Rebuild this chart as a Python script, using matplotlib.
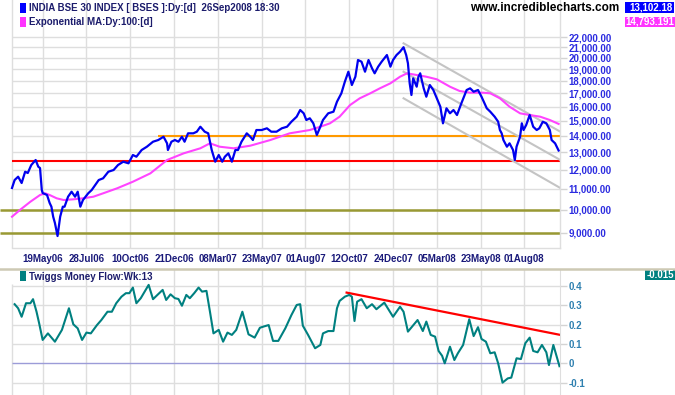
import matplotlib
matplotlib.use('Agg')
import matplotlib.pyplot as plt
from matplotlib.patches import Rectangle
from matplotlib.lines import Line2D
from matplotlib.ticker import NullLocator

plt.rcParams['font.family'] = ['Liberation Sans', 'DejaVu Sans']

# ---------------- data ----------------
tick_days = [35, 85, 135, 185, 235, 285, 335, 385, 435, 485, 535, 585]
tick_labels = ['19May06', '28Jul06', '10Oct06', '21Dec06', '08Mar07', '23May07',
               '01Aug07', '12Oct07', '24Dec07', '05Mar08', '23May08', '01Aug08']

price_day = [0, 3, 7, 11, 15, 18, 22, 27, 30, 32, 34, 35, 40, 43, 45, 47, 49, 52, 55, 58,
             60, 64, 68, 72, 75, 78, 81, 87, 91, 99, 104, 110, 116, 121, 127, 133, 138, 142, 148, 154,
             161, 167, 173, 177, 178, 182, 186, 190, 194, 197, 201, 207, 211, 215, 220, 224, 228, 232, 236, 240,
             243, 247, 251, 255, 258, 262, 268, 272, 275, 279, 285, 291, 296, 302, 308, 314, 319, 325, 329, 333,
             336, 340, 344, 348, 352, 355, 361, 367, 371, 376, 380, 384, 388, 392, 395, 399, 403, 407, 411, 414,
             418, 422, 428, 432, 435, 439, 443, 447, 450, 452, 454, 456, 458, 462, 464, 466, 470, 473, 477, 481,
             485, 489, 492, 496, 500, 504, 508, 513, 519, 523, 527, 532, 536, 542, 546, 551, 555, 557, 559, 561,
             565, 568, 572, 574, 576, 580, 582, 584, 587, 591, 595, 599, 602, 606, 610, 614, 616, 620, 624]
price_val = [11040, 11450, 11625, 11295, 11893, 11823, 12262, 12546, 12168, 12095, 10940, 10791, 10693, 10309, 10137, 9685, 9410, 8867, 9685, 10137,
             10137, 10611, 10855, 10611, 10855, 10137, 10451, 10776, 10940, 11450, 11540, 11893, 11986, 12262, 12449, 12358, 12836, 12736, 13132, 13332,
             13639, 13746, 13953, 13539, 13132, 13639, 13746, 13639, 13953, 13639, 14172, 14172, 14277, 14606, 14277, 14172, 13132, 12449, 12836, 12449,
             12736, 12935, 12449, 13132, 13132, 13639, 14172, 13953, 13746, 14387, 14387, 14500, 14277, 14277, 14500, 14606, 14944, 15290, 15764, 15528,
             15060, 15178, 14834, 14063, 14606, 15060, 15528, 15642, 16373, 17013, 17939, 18776, 17669, 18352, 19807, 19654, 18776, 19807, 19071, 18639,
             19211, 19654, 20263, 19211, 19807, 20263, 20572, 21000, 20263, 19511, 17808, 16881, 18218, 17534, 18352, 18639, 17406, 16750, 17669, 17271,
             16629, 16003, 14834, 15887, 15528, 15764, 15407, 16254, 17271, 17406, 17137, 17271, 16750, 15887, 15642, 15290, 14944, 14387, 14172, 13746,
             13332, 13539, 13132, 12546, 13332, 13953, 14834, 14387, 14720, 15407, 14606, 14387, 14500, 14944, 14834, 14387, 13746, 13539, 13102.18]

ema_day = [0, 9, 21, 32, 38, 43, 51, 59, 70, 81, 93, 104, 120, 138, 158, 177, 196, 215, 226, 237,
           253, 272, 295, 317, 340, 352, 363, 374, 386, 397, 409, 420, 432, 443, 451, 462, 473, 485, 500, 511,
           523, 538, 546, 557, 568, 580, 591, 603, 614, 624]
ema_val = [9685, 9985, 10371, 10693, 10776, 10693, 10533, 10451, 10485, 10533, 10611, 10776, 11025, 11362, 11806, 12546, 12935, 13235, 13539, 13332,
           13235, 13393, 13746, 14172, 14387, 14606, 14834, 15290, 16128, 16629, 17013, 17406, 17808, 18352, 18639, 18495, 18352, 18135, 17534, 17193,
           17060, 17060, 17013, 16629, 16003, 15528, 15407, 15290, 15060, 14793.191]

tmf_day = [3, 7, 11, 16, 21, 24, 28, 31, 35, 41, 49, 57, 65, 70, 75, 80, 85, 90, 97, 102,
           109, 114, 119, 125, 130, 134, 138, 142, 147, 156, 161, 166, 172, 176, 181, 186, 190, 194, 199, 203,
           208, 213, 217, 222, 226, 230, 236, 241, 246, 251, 256, 263, 270, 277, 283, 287, 293, 298, 304, 312,
           319, 325, 329, 332, 338, 346, 352, 355, 361, 367, 371, 374, 380, 385, 388, 391, 394, 399, 405, 411,
           416, 425, 435, 443, 447, 452, 463, 469, 473, 478, 483, 487, 491, 494, 500, 505, 509, 515, 522, 527,
           532, 536, 541, 546, 551, 555, 560, 566, 570, 576, 581, 586, 591, 595, 600, 605, 610, 613, 618, 625]
tmf_val = [0.306, 0.285, 0.241, 0.311, 0.311, 0.332, 0.267, 0.207, 0.121, 0.155, 0.112, 0.173, 0.285, 0.202, 0.181, 0.121, 0.159, 0.155, 0.198, 0.224,
           0.267, 0.267, 0.311, 0.345, 0.363, 0.363, 0.392, 0.311, 0.337, 0.406, 0.332, 0.354, 0.380, 0.328, 0.357, 0.337, 0.333, 0.298, 0.354, 0.337,
           0.363, 0.392, 0.371, 0.375, 0.267, 0.155, 0.173, 0.112, 0.159, 0.147, 0.173, 0.267, 0.150, 0.133, 0.184, 0.190, 0.198, 0.116, 0.116, 0.181,
           0.250, 0.302, 0.306, 0.195, 0.147, 0.078, 0.095, 0.155, 0.167, 0.167, 0.285, 0.323, 0.345, 0.354, 0.345, 0.219, 0.319, 0.332, 0.285, 0.306,
           0.280, 0.314, 0.241, 0.293, 0.267, 0.164, 0.224, 0.167, 0.216, 0.147, 0.138, 0.064, 0.039, 0.000, 0.086, 0.017, 0.052, 0.095, 0.228, 0.141,
           0.187, 0.126, 0.112, 0.052, 0.057, 0.000, -0.100, -0.078, -0.074, 0.026, 0.022, 0.104, 0.133, 0.064, 0.057, 0.095, 0.057, -0.009, 0.095, -0.015]

# drawn support / resistance levels
olive_levels = [10000, 9000]
red_level = 12485
orange_level = 14020
orange_start = 167
channel_days = [447, 626]
channel_upper = [21376, 14277]
channel_middle = [18776, 12546]
channel_lower = [16629, 11040]
tmf_trend_day = [382, 626]
tmf_trend_val = [0.366, 0.147]

price_ticks = list(range(9000, 23000, 1000))
tmf_ticks = [0.4, 0.3, 0.2, 0.1, 0.0, -0.1]
tmf_tick_labels = ['0.4', '0.3', '0.2', '0.1', '0', '-0.1']

# ---------------- figure ----------------
W, H = 675, 395
fig = plt.figure(figsize=(W / 100, H / 100), dpi=100)
fig.patch.set_facecolor('white')


def fx(px):
    return px / W


def fy(py):
    return 1 - py / H


XLIM = (-13.7, 625.6)
GRID = '#dedede'

ax = fig.add_axes([0, fy(248), 560 / W, 248 / H])
ax2 = fig.add_axes([0, 0, 560 / W, 125 / H])

# ---- main panel ----
ax.set_yscale('log')
ax.set_xlim(XLIM)
ax.set_ylim(8395, 26050)
ax.yaxis.set_minor_locator(NullLocator())
ax.xaxis.set_minor_locator(NullLocator())
ax.yaxis.tick_right()
ax.set_yticks(price_ticks)
ax.set_yticklabels([f'{v:,.2f}' for v in price_ticks])
ax.set_xticks(tick_days)
ax.set_xticklabels(tick_labels)
ax.tick_params(axis='y', which='major', length=5, width=1, color='#d4d4d4', pad=1,
               labelsize=7, labelcolor='#2c2ce0')
ax.tick_params(axis='x', length=0, pad=4, labelsize=7, labelcolor='#1a1a7a')
for lbl in ax.get_yticklabels() + ax.get_xticklabels():
    lbl.set_fontweight('bold')
for s in ['top', 'left']:
    ax.spines[s].set_visible(False)
for s in ['bottom', 'right']:
    ax.spines[s].set_color(GRID)
    ax.spines[s].set_linewidth(1)
ax.spines['bottom'].set_bounds(0, XLIM[1])

for d in [0] + tick_days:
    ax.axvline(d, color=GRID, lw=1, zorder=0)
for v in price_ticks:
    ax.hlines(v, 0, XLIM[1], color=GRID, lw=1, zorder=0)

for lv in olive_levels:
    ax.hlines(lv, XLIM[0], XLIM[1], color='#999933', lw=1.8, zorder=2)
ax.hlines(red_level, 0, XLIM[1], color='#ff0000', lw=1.5, zorder=2)
ax.hlines(orange_level, orange_start, XLIM[1], color='#ff9900', lw=1.5, zorder=2)
for ch in (channel_upper, channel_middle, channel_lower):
    ax.plot(channel_days, ch, color='#c4c4c4', lw=1.5, zorder=2)

ax.plot(ema_day, ema_val, color='#ff44ff', lw=1.5, zorder=3)
ax.plot(price_day, price_val, color='#0000ee', lw=1.6, zorder=4)

# ---- lower panel ----
ax2.set_xlim(XLIM)
ax2.set_ylim(-0.164, 0.483)
ax2.yaxis.tick_right()
ax2.set_yticks(tmf_ticks)
ax2.set_yticklabels(tmf_tick_labels)
ax2.set_xticks([])
ax2.tick_params(axis='y', length=5, width=1, color='#d4d4d4', pad=1, labelsize=7,
                labelcolor='#2f80b0')
for lbl in ax2.get_yticklabels():
    lbl.set_fontweight('bold')
for s in ['top', 'left', 'bottom']:
    ax2.spines[s].set_visible(False)
ax2.spines['right'].set_color(GRID)

for d in tick_days:
    ax2.axvline(d, color=GRID, lw=1, zorder=0)
ax2.vlines(0, -0.2, 0.41, color=GRID, lw=1, zorder=0)
for v in tmf_ticks:
    if v != 0:
        ax2.hlines(v, 0, XLIM[1], color=GRID, lw=1, zorder=0)
ax2.hlines(0, 0, XLIM[1], color='#9c9cd8', lw=1, zorder=1)

ax2.plot(tmf_trend_day, tmf_trend_val, color='#ff0000', lw=1.6, zorder=2)
ax2.plot(tmf_day, tmf_val, color='#008080', lw=1.5, zorder=3)

# ---- separator ----
fig.add_artist(Line2D([0, 1], [fy(268.5), fy(268.5)], transform=fig.transFigure,
                      color='#cdc9b4', lw=1.8))

# ---- header / legends ----
def marker(px, py, color):
    fig.add_artist(Rectangle((fx(px), fy(py + 10)), 6 / W, 10 / H,
                             transform=fig.transFigure, fc=color, ec='none'))


marker(20, 3, '#0000ff')
marker(20, 17, '#ff33ff')
marker(20, 271, '#008080')

txt = dict(fontsize=7, fontweight='bold', va='center', ha='left', color='#1c1c6c')
fig.text(fx(29), fy(8), 'INDIA BSE 30 INDEX [ BSES ]:Dy:[d]  26Sep2008 18:30', **txt)
fig.text(fx(29), fy(22), 'Exponential MA:Dy:100:[d]', **txt)
fig.text(fx(29), fy(277), 'Twiggs Money Flow:Wk:13', **txt)

fig.text(fx(619), fy(8), 'www.incrediblecharts.com', fontsize=8.5, fontweight='bold',
         color='black', ha='right', va='center')


def value_box(x0, y0, w, h, color, text):
    fig.add_artist(Rectangle((fx(x0), fy(y0 + h)), w / W, h / H,
                             transform=fig.transFigure, fc=color, ec='none'))
    fig.text(fx(x0 + w - 1), fy(y0 + h / 2), text, fontsize=7, fontweight='bold',
             color='white', ha='right', va='center')


value_box(625, 2.5, 49, 10, '#0000ff', f'{price_val[-1]:,.2f}')
value_box(625, 17, 50, 10, '#ff33ff', f'{ema_val[-1]:,.3f}')
value_box(645, 270, 30, 10, '#008080', f'{tmf_val[-1]:.3f}')

fig.savefig('out.png', dpi=100, facecolor='white')
